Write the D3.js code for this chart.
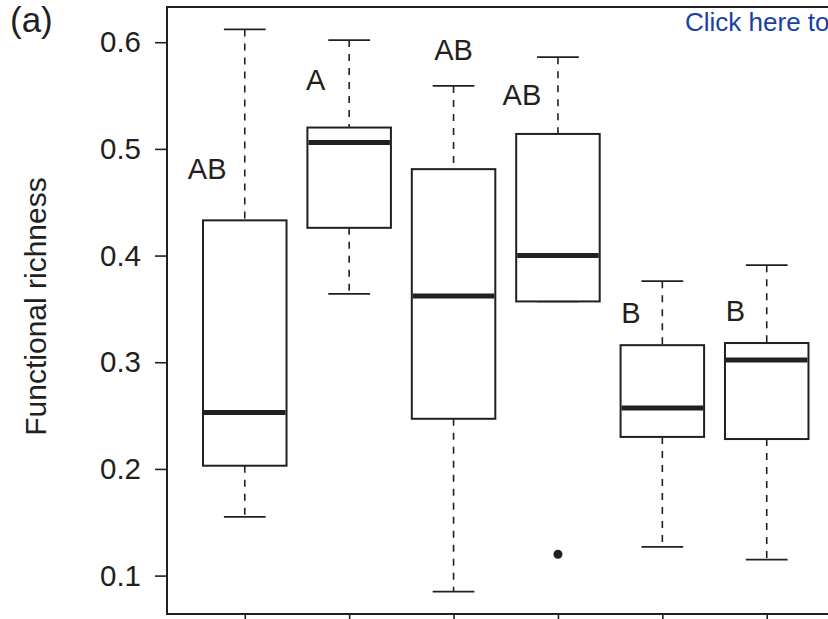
<!DOCTYPE html>
<html>
<head>
<meta charset="utf-8">
<script src="https://cdn.jsdelivr.net/npm/d3@7"></script>
<style>
  html, body { margin: 0; padding: 0; background: #fff; overflow: hidden; }
  svg { display: block; }
  text { font-family: "Liberation Sans", Arial, Helvetica, sans-serif; fill: #231f20; }
</style>
</head>
<body>
<svg id="chart" width="828" height="619"></svg>
<script>
// Box-plot statistics per group (whisker low, Q1, median, Q3, whisker high)
const groups     = [1, 2, 3, 4, 5, 6];
const whiskerLow = [0.155, 0.364, 0.085, 0.357, 0.127, 0.115];
const q1         = [0.203, 0.426, 0.247, 0.357, 0.230, 0.228];
const medians    = [0.253, 0.506, 0.362, 0.400, 0.257, 0.302];
const q3         = [0.433, 0.520, 0.481, 0.514, 0.316, 0.318];
const whiskerHigh= [0.612, 0.602, 0.559, 0.586, 0.376, 0.391];

// Outlying points: [group, value]
const outliers = [[4, 0.120]];

// Significance letters and where they sit (group units, value units)
const letters  = ["AB", "A", "AB", "AB", "B", "B"];
const letterX  = [0.64, 1.68, 3.0, 3.655, 4.70, 5.70];
const letterY  = [0.4815, 0.565, 0.593, 0.551, 0.347, 0.348];

const yTicks = [0.1, 0.2, 0.3, 0.4, 0.5, 0.6];

const ink = "#231f20";
const svg = d3.select("#chart");

const x = d3.scaleLinear().domain([0.255, 6.745]).range([167, 844.5]);
const y = d3.scaleLinear().domain([0.064, 0.633]).range([614, 7]);

const boxW = 0.8 * (x(2) - x(1));
const capW = boxW / 2;

// Plot frame
svg.append("rect")
  .attr("x", x(0.255)).attr("y", y(0.633))
  .attr("width", x(6.745) - x(0.255))
  .attr("height", y(0.064) - y(0.633))
  .attr("fill", "none").attr("stroke", ink).attr("stroke-width", 2);

// Y axis
const yAxis = svg.append("g")
  .attr("transform", `translate(${x(0.255)},0)`)
  .call(d3.axisLeft(y).tickValues(yTicks).tickSize(12).tickPadding(14)
        .tickFormat(d3.format(".1f")));
yAxis.select(".domain").remove();
yAxis.selectAll(".tick line").attr("stroke", ink).attr("stroke-width", 1.6);
yAxis.selectAll(".tick text").attr("font-size", 29.5).attr("fill", ink)
  .style("font-family", "'Liberation Sans', Arial, sans-serif");

// X axis ticks (no labels)
const xAxis = svg.append("g")
  .attr("transform", `translate(0,${y(0.064)})`)
  .call(d3.axisBottom(x).tickValues(groups).tickSize(10).tickFormat(""));
xAxis.select(".domain").remove();
xAxis.selectAll(".tick line").attr("stroke", ink).attr("stroke-width", 1.6);

// Y label
svg.append("text")
  .attr("transform", `translate(46,${(y(0.064) + y(0.633)) / 2 - 4}) rotate(-90)`)
  .attr("text-anchor", "middle")
  .attr("font-size", 30)
  .text("Functional richness");

// Panel tag
svg.append("text").attr("x", 10).attr("y", 32).attr("font-size", 35).text("(a)");

// Link text in the corner
svg.append("text").attr("x", 685).attr("y", 31).attr("font-size", 26)
  .style("fill", "#1941a5").text("Click here to");

const boxes = groups.map((g, i) => ({
  g, lo: whiskerLow[i], q1: q1[i], med: medians[i], q3: q3[i], hi: whiskerHigh[i]
}));

const bx = svg.append("g");
const b = bx.selectAll("g.box").data(boxes).join("g").attr("class", "box");

// Whiskers (dashed)
b.append("line")
  .attr("x1", d => x(d.g)).attr("x2", d => x(d.g))
  .attr("y1", d => y(d.hi)).attr("y2", d => y(d.q3))
  .attr("stroke", ink).attr("stroke-width", 1.6).attr("stroke-dasharray", "7,7");
b.append("line")
  .attr("x1", d => x(d.g)).attr("x2", d => x(d.g))
  .attr("y1", d => y(d.q1)).attr("y2", d => y(d.lo))
  .attr("stroke", ink).attr("stroke-width", 1.6).attr("stroke-dasharray", "7,7");

// Staples
b.append("line")
  .attr("x1", d => x(d.g) - capW / 2).attr("x2", d => x(d.g) + capW / 2)
  .attr("y1", d => y(d.hi)).attr("y2", d => y(d.hi))
  .attr("stroke", ink).attr("stroke-width", 1.8);
b.append("line")
  .attr("x1", d => x(d.g) - capW / 2).attr("x2", d => x(d.g) + capW / 2)
  .attr("y1", d => y(d.lo)).attr("y2", d => y(d.lo))
  .attr("stroke", ink).attr("stroke-width", 1.8);

// Boxes
b.append("rect")
  .attr("x", d => x(d.g) - boxW / 2)
  .attr("y", d => y(d.q3))
  .attr("width", boxW)
  .attr("height", d => y(d.q1) - y(d.q3))
  .attr("fill", "#fff").attr("stroke", ink).attr("stroke-width", 2);

// Medians
b.append("line")
  .attr("x1", d => x(d.g) - boxW / 2 + 1).attr("x2", d => x(d.g) + boxW / 2 - 1)
  .attr("y1", d => y(d.med)).attr("y2", d => y(d.med))
  .attr("stroke", ink).attr("stroke-width", 5);

// Outliers
svg.selectAll("circle.out").data(outliers).join("circle")
  .attr("class", "out")
  .attr("cx", d => x(d[0])).attr("cy", d => y(d[1]))
  .attr("r", 4.5).attr("fill", ink);

// Letters
svg.selectAll("text.letter").data(letters).join("text")
  .attr("class", "letter")
  .attr("x", (d, i) => x(letterX[i]))
  .attr("y", (d, i) => y(letterY[i]))
  .attr("dy", "0.36em")
  .attr("text-anchor", "middle")
  .attr("font-size", 29)
  .text(d => d);
</script>
</body>
</html>
